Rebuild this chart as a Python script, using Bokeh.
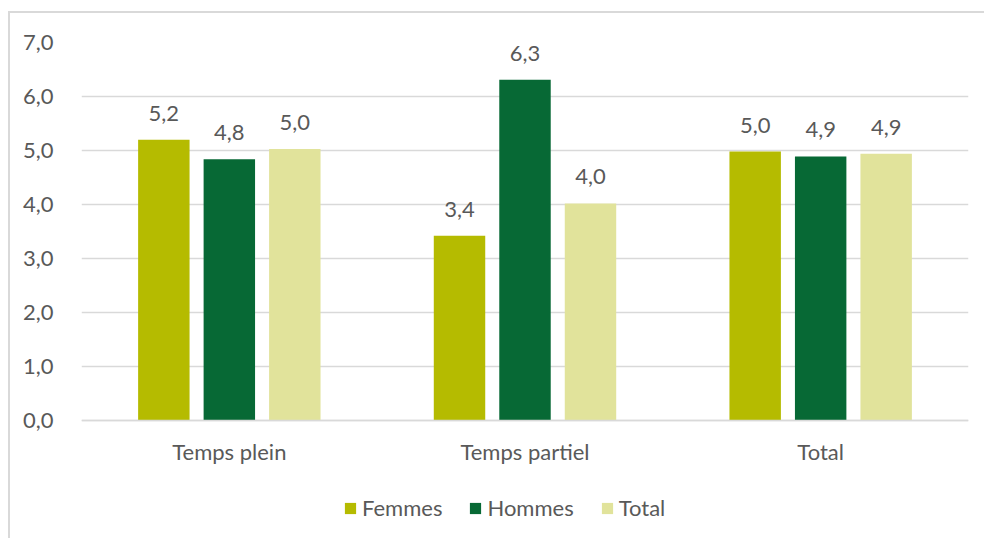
from bokeh.plotting import figure
from bokeh.models import (ColumnDataSource, FactorRange, Range1d, FixedTicker,
                          LabelSet, Legend, LegendItem)
from bokeh.core.properties import value
from bokeh.transform import dodge
from bokeh.embed import file_html
from bokeh.resources import INLINE

categories = ["Temps plein", "Temps partiel", "Total"]
femmes = [5.20, 3.42, 4.98]
hommes = [4.84, 6.31, 4.89]
total = [5.03, 4.02, 4.94]
series_names = ["Femmes", "Hommes", "Total"]
colors = ["#b5bb00", "#076935", "#e1e39b"]
y_ticks = [0, 1, 2, 3, 4, 5, 6, 7]
y_tick_labels = ["0,0", "1,0", "2,0", "3,0", "4,0", "5,0", "6,0", "7,0"]

FONT = "Lato"
FS = "22px"
TXT = "#595959"

# frame: 378 px for 0..7 (54 px per unit); frame extended 118 px below zero
# so the legend can sit inside the frame area under the category labels
PX_PER_UNIT = 54.0
BELOW_ZERO_PX = 118.0
y_start = -BELOW_ZERO_PX / PX_PER_UNIT

p = figure(x_range=FactorRange(*categories, range_padding=0),
           y_range=Range1d(y_start, 7),
           width=976, height=527,
           output_backend="svg", toolbar_location=None,
           min_border_left=71, min_border_right=18,
           min_border_top=29, min_border_bottom=2)
p.margin = (11, 0, 0, 8)
p.styles = {"border-left": "2px solid #d9d9d9", "border-top": "2px solid #d9d9d9"}
p.outline_line_color = None
p.background_fill_color = "white"
p.border_fill_color = "white"

offsets = [-0.2215, 0.0, 0.2215]
series = [femmes, hommes, total]
items = []
for name, vals, col, off in zip(series_names, series, colors, offsets):
    src = ColumnDataSource(dict(cat=categories, v=vals,
                                lbl=[f"{v:.1f}".replace(".", ",") for v in vals]))
    r = p.vbar(x=dodge("cat", off, range=p.x_range), top="v", bottom=0,
               width=0.174, source=src, fill_color=col, line_color=None)
    items.append(LegendItem(label=name, renderers=[r]))
    labels = LabelSet(x=dodge("cat", off, range=p.x_range), y="v", text="lbl",
                      source=src, text_align="center", text_baseline="alphabetic",
                      y_offset=19, text_font=value(FONT), text_font_size=value(FS),
                      text_color=TXT)
    p.add_layout(labels)

p.yaxis.ticker = FixedTicker(ticks=y_ticks)
p.yaxis.major_label_overrides = {t: l for t, l in zip(y_ticks, y_tick_labels)}
p.yaxis.axis_line_color = None
p.yaxis.major_tick_line_color = None
p.yaxis.minor_tick_line_color = None
p.yaxis.major_label_standoff = 22
p.yaxis.major_label_text_font = FONT
p.yaxis.major_label_text_font_size = FS
p.yaxis.major_label_text_color = TXT

p.xaxis.fixed_location = 0
p.xaxis.axis_line_color = "#d9d9d9"
p.xaxis.axis_line_width = 1.5
p.xaxis.major_tick_line_color = None
p.xaxis.minor_tick_line_color = None
p.xaxis.major_label_standoff = 11
p.xaxis.major_label_text_font = FONT
p.xaxis.major_label_text_font_size = FS
p.xaxis.major_label_text_color = TXT

p.xgrid.grid_line_color = None
p.ygrid.ticker = FixedTicker(ticks=y_ticks)
p.ygrid.grid_line_color = "#d9d9d9"
p.ygrid.grid_line_width = 1.5

legend = Legend(items=items, orientation="horizontal", location=(262, 17),
                glyph_width=14, glyph_height=14, label_standoff=5, spacing=26,
                padding=0, margin=0, border_line_color=None,
                background_fill_alpha=0,
                label_text_font=FONT, label_text_font_size=FS,
                label_text_color=TXT)
p.add_layout(legend, "center")

open("out.html", "w").write(file_html(p, INLINE))
